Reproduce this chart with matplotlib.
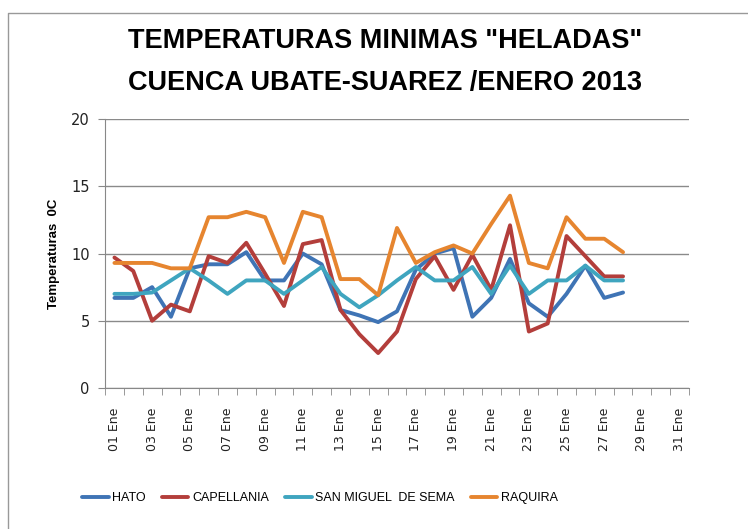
import matplotlib

matplotlib.use("Agg")
import matplotlib.pyplot as plt
import numpy as np
from matplotlib.lines import Line2D

plt.rcParams["font.family"] = ["Liberation Sans", "DejaVu Sans"]

# daily minimum temperatures, 1..28 Jan 2013
days = list(range(1, 29))
hato = [6.7, 6.7, 7.5, 5.3, 8.9, 9.2, 9.2, 10.1, 8.0, 8.0, 10.0, 9.2, 5.8, 5.4,
        4.9, 5.7, 8.8, 10.0, 10.4, 5.3, 6.7, 9.6, 6.3, 5.3, 7.0, 9.1, 6.7, 7.1]
capellania = [9.7, 8.7, 5.0, 6.2, 5.7, 9.8, 9.3, 10.8, 8.5, 6.1, 10.7, 11.0, 5.8, 4.0,
              2.6, 4.2, 8.1, 9.8, 7.3, 9.9, 7.3, 12.1, 4.2, 4.8, 11.3, 9.8, 8.3, 8.3]
san_miguel = [7.0, 7.0, 7.1, 8.0, 8.9, 8.0, 7.0, 8.0, 8.0, 7.0, 8.0, 9.0, 7.0, 6.0,
              6.9, 8.0, 9.0, 8.0, 8.0, 9.0, 7.0, 9.1, 7.0, 8.0, 8.0, 9.1, 8.0, 8.0]
raquira = [9.3, 9.3, 9.3, 8.9, 8.9, 12.7, 12.7, 13.1, 12.7, 9.3, 13.1, 12.7, 8.1, 8.1,
           6.9, 11.9, 9.3, 10.1, 10.6, 10.0, 12.2, 14.3, 9.3, 8.9, 12.7, 11.1, 11.1, 10.1]
tick_days = list(range(1, 32, 2))
tick_labels = [f"{d:02d} Ene" for d in tick_days]

series = [("HATO", hato, "#3F74B5"),
          ("CAPELLANIA", capellania, "#B33E3B"),
          ("SAN MIGUEL  DE SEMA", san_miguel, "#3FA5BF"),
          ("RAQUIRA", raquira, "#E6852F")]

fig = plt.figure(figsize=(7.48, 5.29), dpi=100)
ax = fig.add_axes([0.1404, 0.2665, 0.7807, 0.5085])

for lab, vals, col in series:
    ax.plot(days, vals, color=col, lw=2.8, label=lab, solid_capstyle="round")

ax.set_xlim(0.5, 31.5)
ax.set_ylim(0, 20)
ax.set_yticks([0, 5, 10, 15, 20])
ax.set_xticks(tick_days)
ax.set_xticklabels(tick_labels, rotation=90, fontsize=9, color="#222",
                   family=["DejaVu Sans"])
ax.set_xticks(np.arange(0.5, 32, 1), minor=True)
ax.tick_params(axis="x", which="major", length=0, pad=14)
ax.tick_params(axis="x", which="minor", length=5, color="#888")
ax.tick_params(axis="y", length=5, color="#888", labelsize=10.5, labelcolor="#222", pad=6)
for t in ax.get_yticklabels():
    t.set_family(["DejaVu Sans"])
ax.grid(axis="y", color="#8a8a8a", lw=1)
ax.set_axisbelow(True)
for s in ["top", "right"]:
    ax.spines[s].set_visible(False)
for s in ["left", "bottom"]:
    ax.spines[s].set_color("#888")
ax.set_ylabel("Temperaturas  0C", fontsize=9.5, fontweight="bold", labelpad=8)

fig.text(0.515, 1 - 41 / 529, 'TEMPERATURAS MINIMAS "HELADAS"', ha="center", va="center",
         fontsize=19.5, fontweight="bold")
fig.text(0.515, 1 - 83 / 529, "CUENCA UBATE-SUAREZ /ENERO 2013", ha="center", va="center",
         fontsize=19.5, fontweight="bold")

fig.legend(loc="center", bbox_to_anchor=(0.428, 1 - 498 / 529), ncol=4, frameon=False,
           fontsize=9, handlelength=2.1, handletextpad=0.3, columnspacing=1.3)

# chart border (only top and left visible in the crop)
fig.add_artist(Line2D([8 / 748, 8 / 748, 1], [0, 1 - 13 / 529, 1 - 13 / 529],
                      transform=fig.transFigure, color="#999", lw=1))

fig.savefig("out.png", dpi=100)
